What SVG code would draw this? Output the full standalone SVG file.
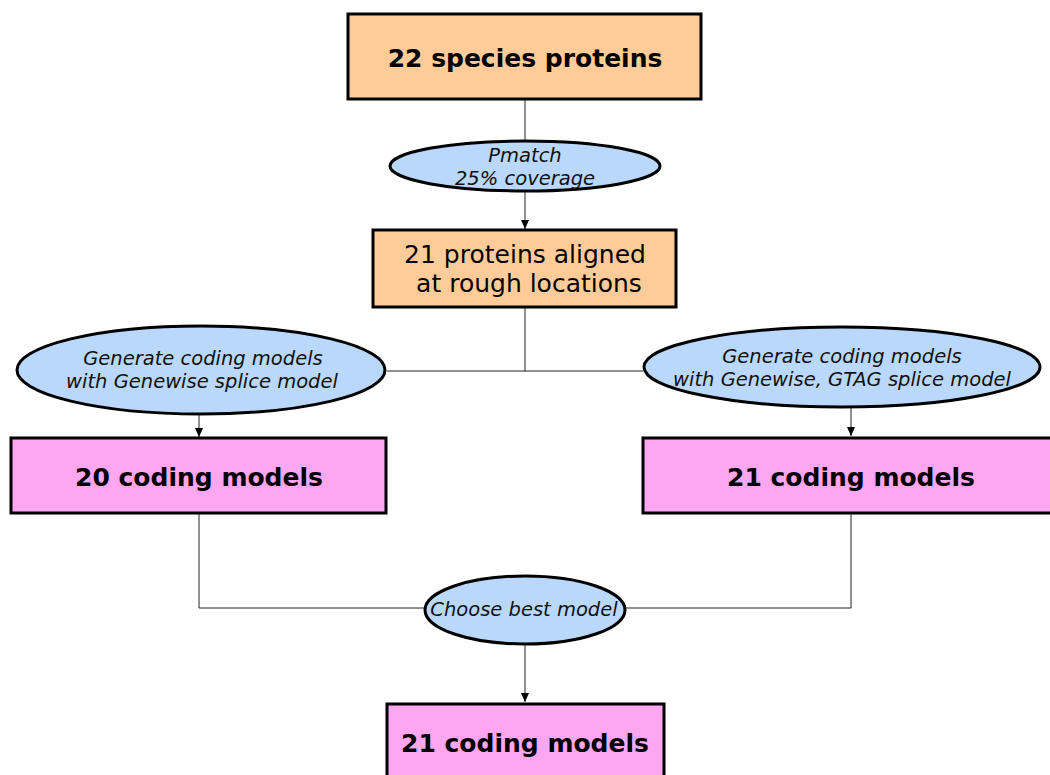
<svg xmlns="http://www.w3.org/2000/svg" width="1050" height="775" viewBox="0 0 1050 775">
<style>
.box{stroke:#000;stroke-width:3}
.orange{fill:#ffcc99}
.pink{fill:#ffa6f0}
.ell{fill:#b9d8fb;stroke:#000;stroke-width:3}
.bold{font-family:"DejaVu Sans",sans-serif;font-weight:bold;font-size:25px;text-anchor:middle;fill:#000}
.norm{font-family:"DejaVu Sans",sans-serif;font-size:25px;text-anchor:middle;fill:#000}
.it{font-family:"DejaVu Sans",sans-serif;font-style:italic;font-size:19.5px;text-anchor:middle;fill:#111}
.con{fill:none;stroke:#222;stroke-width:1}
</style>
<defs>
<marker id="arr" markerWidth="10" markerHeight="10" refX="9" refY="5" orient="auto" markerUnits="userSpaceOnUse">
<path d="M0,1 L9,5 L0,9 z" fill="#000"/>
</marker>
</defs>
<rect width="1050" height="775" fill="#fff"/>
<g id="connectors">
<path class="con" d="M525,99 V141"/>
<path class="con" d="M525,192 V229" marker-end="url(#arr)"/>
<path class="con" d="M525,307 V371 M387,371 H643"/>
<path class="con" d="M199,415 V437" marker-end="url(#arr)"/>
<path class="con" d="M851,408 V436" marker-end="url(#arr)"/>
<path class="con" d="M199,513 V608 H425"/>
<path class="con" d="M851,513 V608 H625"/>
<path class="con" d="M525,644 V702" marker-end="url(#arr)"/>
</g>
<g id="n1"><rect class="box orange" x="348" y="14" width="353" height="85"/><text class="bold" x="525" y="67">22 species proteins</text></g>
<g id="e1"><ellipse class="ell" cx="525" cy="166" rx="135" ry="25"/><text class="it" x="525" y="162">Pmatch</text><text class="it" x="525" y="185">25% coverage</text></g>
<g id="n2"><rect class="box orange" x="373" y="230" width="303" height="77"/><text class="norm" x="525" y="263">21 proteins aligned</text><text class="norm" x="529" y="292">at rough locations</text></g>
<g id="e2"><ellipse class="ell" cx="201" cy="370" rx="184" ry="44"/><text class="it" x="203" y="365">Generate coding models</text><text class="it" x="202" y="388">with Genewise splice model</text></g>
<g id="e3"><ellipse class="ell" cx="842" cy="367" rx="198" ry="40"/><text class="it" x="842" y="363">Generate coding models</text><text class="it" x="842" y="386">with Genewise, GTAG splice model</text></g>
<g id="n3"><rect class="box pink" x="11" y="438" width="375" height="75"/><text class="bold" x="199" y="486">20 coding models</text></g>
<g id="n4"><rect class="box pink" x="643" y="438" width="420" height="75"/><text class="bold" x="851" y="486">21 coding models</text></g>
<g id="e4"><ellipse class="ell" cx="525" cy="610" rx="100" ry="34"/><text class="it" x="524" y="616">Choose best model</text></g>
<g id="n5"><rect class="box pink" x="387" y="704" width="277" height="90"/><text class="bold" x="525" y="752">21 coding models</text></g>
</svg>
